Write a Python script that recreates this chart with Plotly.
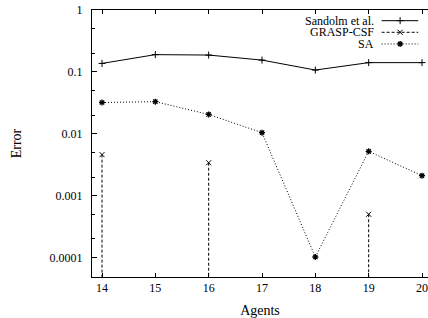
import plotly.graph_objects as go

agents = [14, 15, 16, 17, 18, 19, 20]
sandolm = [0.137, 0.19, 0.187, 0.155, 0.107, 0.141, 0.141]
grasp_csf = [0.0046, 0, 0.0034, 0, 0, 0.0005, 0]
sa = [0.032, 0.033, 0.0205, 0.0104, 0.000102, 0.0052, 0.0021]

series_names = ["Sandolm et al.", "GRASP-CSF", "SA"]
y_tickvals = [1, 0.1, 0.01, 0.001, 0.0001]
y_ticktext = ["1", "0.1", "0.01", "0.001", "0.0001"]
y_minor = [m * 10.0 ** e for e in range(-5, 0) for m in (2, 5)]

Y_LOG_RANGE = [-4.315, 0]
X_RANGE = [13.8125, 20.1125]
FONT = "Liberation Serif"
ymin = 10 ** Y_LOG_RANGE[0]

MK_PLUS = dict(symbol="cross-thin", size=5, color="black", line=dict(color="black", width=1))
MK_X = dict(symbol="x-thin", size=5, color="black", line=dict(color="black", width=1))
MK_STAR = dict(symbol="asterisk-open", size=5, color="black", line=dict(color="black", width=1.3))
LN_SOLID = dict(color="black", width=1)
LN_DASH = dict(color="black", width=1, dash="3px,2px")
LN_DOT = dict(color="black", width=1, dash="1px,2px")

fig = go.Figure()

# Sandolm et al.
fig.add_trace(go.Scatter(x=agents, y=sandolm, mode="lines+markers",
                         line=LN_SOLID, marker=MK_PLUS, showlegend=False))

# GRASP-CSF: zero values fall to the bottom of the log axis
gx, gy, mx, my = [], [], [], []
for a, v in zip(agents, grasp_csf):
    if v > 0:
        gx += [a, a, None]
        gy += [v, ymin, None]
        mx.append(a)
        my.append(v)
fig.add_trace(go.Scatter(x=gx, y=gy, mode="lines", line=LN_DASH, showlegend=False))
fig.add_trace(go.Scatter(x=mx, y=my, mode="markers", marker=MK_X, showlegend=False))

# SA
fig.add_trace(go.Scatter(x=agents, y=sa, mode="lines+markers",
                         line=LN_DOT, marker=MK_STAR, showlegend=False))

# custom gnuplot-style key (text left, sample right)
key_rows = [0.96, 0.9165, 0.873]
key_styles = [(LN_SOLID, MK_PLUS), (LN_DASH, MK_X), (LN_DOT, MK_STAR)]
for name, yr, (ln, mk) in zip(series_names, key_rows, key_styles):
    fig.add_trace(go.Scatter(x=[0.862, 0.971], y=[yr, yr], mode="lines", line=ln,
                             xaxis="x2", yaxis="y2", showlegend=False, hoverinfo="skip"))
    fig.add_trace(go.Scatter(x=[0.917], y=[yr], mode="markers", marker=mk,
                             xaxis="x2", yaxis="y2", showlegend=False, hoverinfo="skip"))
    fig.add_annotation(x=0.843, y=yr, xref="paper", yref="paper", text=name,
                       showarrow=False, xanchor="right", yanchor="middle",
                       borderpad=0,
                       font=dict(family=FONT, size=12, color="black"))

fig.update_layout(
    width=428, height=318,
    margin=dict(l=92, r=0, t=10, b=41),
    paper_bgcolor="white", plot_bgcolor="white",
    font=dict(family=FONT, size=12, color="black"),
    xaxis=dict(
        range=X_RANGE, tickvals=agents, ticks="inside", ticklen=4,
        tickcolor="black", showline=True, linecolor="black", linewidth=1,
        mirror="allticks", showgrid=False, zeroline=False,
        title=dict(text="Agents", standoff=11),
        tickfont=dict(family=FONT, size=12)),
    yaxis=dict(
        type="log", range=Y_LOG_RANGE, tickvals=y_tickvals, ticktext=y_ticktext,
        ticks="inside", ticklen=5, tickcolor="black", showline=True,
        linecolor="black", linewidth=1, mirror=False, showgrid=False,
        zeroline=False, ticklabelstandoff=6,
        minor=dict(tickvals=y_minor, ticks="inside", ticklen=2.5, tickcolor="black"),
        title=dict(text="Error", standoff=24),
        tickfont=dict(family=FONT, size=12)),
    xaxis2=dict(overlaying="x", range=[0, 1], visible=False, fixedrange=True),
    yaxis2=dict(overlaying="y", range=[0, 1], visible=False, fixedrange=True),
)

fig.write_html(
    "out.html",
    config={"displayModeBar": False},
    post_script="document.body.style.margin='0';document.body.style.overflow='hidden';",
)
